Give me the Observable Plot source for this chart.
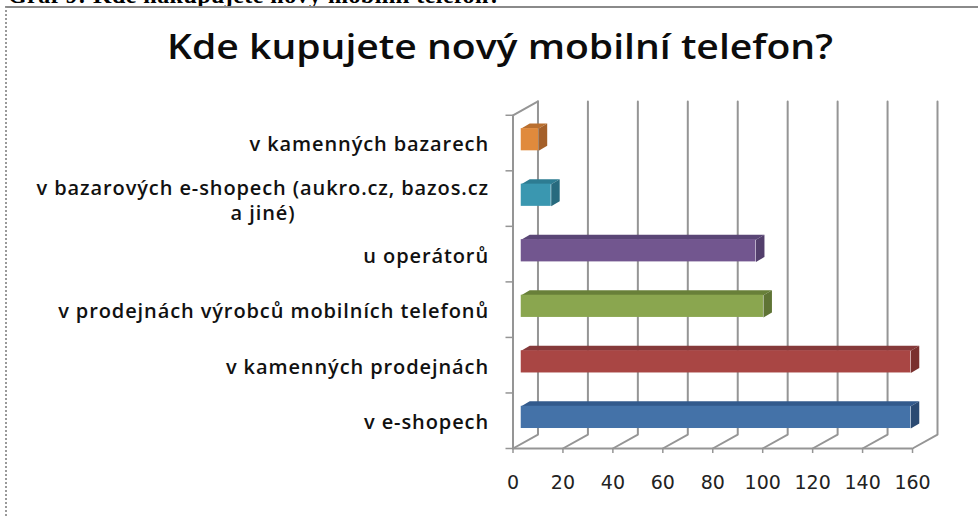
<!DOCTYPE html>
<html><head><meta charset="utf-8">
<script src="https://cdn.jsdelivr.net/npm/d3@7"></script>
<script src="https://cdn.jsdelivr.net/npm/@observablehq/plot@0.6"></script>
<style>
html,body{margin:0;padding:0;background:#fff;width:978px;height:516px;overflow:hidden}
#wrap{position:relative;width:978px;height:516px;overflow:hidden}
#wrap svg{position:absolute;left:0;top:0}
#cap{position:absolute;left:8px;top:-18px;font:bold 24px "Liberation Serif";letter-spacing:.45px;color:#000;white-space:nowrap}
#frame{position:absolute;left:5px;top:6px;width:973px;height:510px;border-left:2px dotted #9a9a9a;border-top:2px solid #8a8a8a;box-sizing:border-box}
#title{position:absolute;left:0;top:23px;width:1000px;text-align:center;font:600 34px "Open Sans";color:#0c0c0c;white-space:nowrap;transform:scaleX(1.15);transform-origin:500px 0}
.catlabel text{letter-spacing:.9px}
</style></head><body>
<div id="wrap">
<div id="cap">Graf 9: Kde nakupujete nový mobilní telefon?</div>
<div id="frame"></div>
<div id="title">Kde kupujete nový mobilní telefon?</div>
</div>
<script>
const categories = ["v e-shopech","v kamenných prodejnách","v prodejnách výrobců mobilních telefonů","u operátorů","v bazarových e-shopech (aukro.cz, bazos.cz","v kamenných bazarech"];
const extraLine = "a jiné)";
const values = [156,156,97,94,12,7];
const faceColors = ["#4472a8","#a94644","#8aa64f","#72568f","#3a97b0","#e08a3c"];
const darkColors = ["#2b4a72","#7a302e","#5f7435","#533f6c","#276a7e","#a4602a"];
const topColors = ["#335a8c","#85393a","#688039","#5a4676","#2d7c92","#b96f2f"];
const ticks = [0,20,40,60,80,100,120,140,160];
const rows = [0,1,2,3,4,5,6];
const wallX = 10, wallY = 0.25;      // depth of the 3D box in data units
const barOffX = 3.3, barOffY = 0.06; // bar front face offset inside the box
const barDX = 3.4, barDY = 0.09;     // bar depth
const barH = 0.2;                    // half thickness

const bars = values.map((v,i)=>({
  i, v, cat:categories[i],
  x1:barOffX, x2:barOffX+v,
  y1:i+.5+barOffY-barH, y2:i+.5+barOffY+barH
}));
const polys = [];
bars.forEach(b=>{
  [[b.x1,b.y2],[b.x2,b.y2],[b.x2+barDX,b.y2+barDY],[b.x1+barDX,b.y2+barDY]].forEach(p=>polys.push({x:p[0],y:p[1],k:"t"+b.i,c:topColors[b.i]}));
  [[b.x2,b.y1],[b.x2,b.y2],[b.x2+barDX,b.y2+barDY],[b.x2+barDX,b.y1+barDY]].forEach(p=>polys.push({x:p[0],y:p[1],k:"s"+b.i,c:darkColors[b.i]}));
});
const grid = [];
ticks.forEach(t=>{
  grid.push({x:t,y:0,k:t},{x:t+wallX,y:wallY,k:t},{x:t+wallX,y:6+wallY,k:t});
});
grid.push({x:0,y:6,k:"top"},{x:wallX,y:6+wallY,k:"top"});
const gridColor="#959595";
const labelFont='"Open Sans"';
const labels = categories.map((c,i)=>({c,y:i===4?i+.5+0.21:i+.5}));

const chart = Plot.plot({
  width:978,height:516,
  marginLeft:512.5,marginRight:41,marginTop:102,marginBottom:68,
  x:{domain:[0,170]},
  y:{domain:[0,6.23]},
  color:{type:"identity"},
  style:{background:"transparent"},
  marks:[
    Plot.line(grid,{x:"x",y:"y",z:"k",stroke:gridColor,strokeWidth:2}),
    Plot.ruleY([0],{x1:0,x2:160,stroke:gridColor,strokeWidth:2}),
    Plot.ruleX([0],{y1:0,y2:6,stroke:gridColor,strokeWidth:2}),
    Plot.axisX(ticks,{tickSize:5,tickPadding:22,fontSize:19,label:null,stroke:gridColor,strokeWidth:1.5,
      fontFamily:"DejaVu Sans",fill:"#222"}),
    Plot.axisY(rows,{tickSize:7,tickFormat:()=>"",label:null,stroke:gridColor,strokeWidth:1.5}),
    Plot.line(polys,{x:"x",y:"y",z:"k",fill:"c",stroke:null}),
    Plot.rect(bars,{x1:"x1",x2:"x2",y1:"y1",y2:"y2",fill:(d)=>faceColors[d.i]}),
    Plot.text(labels,{x:0,y:"y",text:"c",dx:-24,dy:2,textAnchor:"end",fontSize:20,fontWeight:600,fontFamily:labelFont,fill:"#111",className:"catlabel"}),
    Plot.text([extraLine],{x:0,y:[4.5-0.23],text:d=>d,dx:-250,dy:2,textAnchor:"middle",fontSize:20,fontWeight:600,fontFamily:labelFont,fill:"#111",className:"catlabel"})
  ]
});
document.getElementById("wrap").appendChild(chart);
</script>
</body></html>
